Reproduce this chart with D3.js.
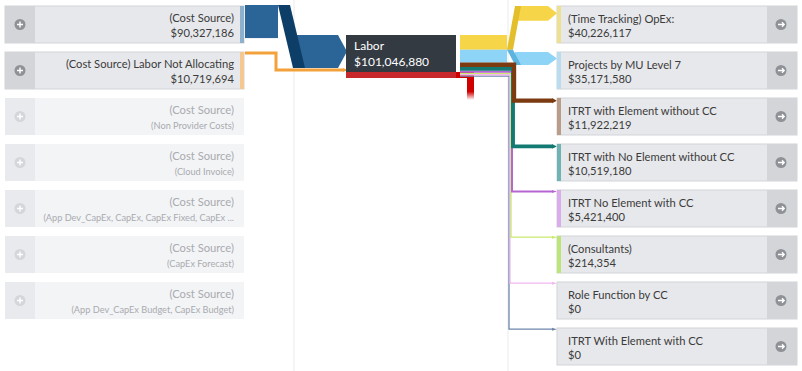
<!DOCTYPE html>
<html>
<head>
<meta charset="utf-8">
<script src="https://cdn.jsdelivr.net/npm/d3@7"></script>
<style>
  body { margin: 0; background: #fff; }
  text { font-family: "Segoe UI", Lato, "Noto Sans", sans-serif; }
</style>
</head>
<body>
<div id="chart"></div>
<script>
// ---- data ----
var sourceNames = ["(Cost Source)", "(Cost Source) Labor Not Allocating", "(Cost Source)", "(Cost Source)",
    "(Cost Source)", "(Cost Source)", "(Cost Source)"];
var sourceSubs = [null, null, "(Non Provider Costs)", "(Cloud Invoice)",
    "(App Dev_CapEx, CapEx, CapEx Fixed, CapEx ...", "(CapEx Forecast)", "(App Dev_CapEx Budget, CapEx Budget)"];
var sourceValues = [90327186, 10719694, 0, 0, 0, 0, 0];
var sourceColors = ["#2b6597", "#f3a13b"];
var sourceAccents = ["#8db0cd", "#f5c891"];

var nodeName = "Labor";
var nodeValue = 101046880;

var targetNames = ["(Time Tracking) OpEx:", "Projects by MU Level 7", "ITRT with Element without CC",
    "ITRT with No Element without CC", "ITRT No Element with CC", "(Consultants)",
    "Role Function by CC", "ITRT With Element with CC"];
var targetValues = [40226117, 35171580, 11922219, 10519180, 5421400, 214354, 0, 0];
var targetColors = ["#f6d548", "#8dd4f6", "#7b3a10", "#127a72", "#b666d2", "#c9ea6c", "#f2b8ee", "#6f86aa"];
var foldColors = ["#e3bf2c", "#5db4de"];
var targetAccents = ["#efe08f", "#b9dcf1", "#b99d88", "#6fb4b2", "#dbaceb", "#bde476", null, null];

var width = 802, height = 371;
var money = d3.format("$,");
var fs = 11.2;

var svg = d3.select("#chart").append("svg")
    .attr("width", width)
    .attr("height", height);

var defs = svg.append("defs");
var grad = defs.append("linearGradient").attr("id", "redFade")
    .attr("x1", 0).attr("y1", 0).attr("x2", 0).attr("y2", 1);
grad.append("stop").attr("offset", "0%").attr("stop-color", "#d10000");
grad.append("stop").attr("offset", "70%").attr("stop-color", "#d10000");
grad.append("stop").attr("offset", "100%").attr("stop-color", "#d10000").attr("stop-opacity", 0);

// scales
var yL = d3.scaleBand().domain(d3.range(sourceNames.length)).range([6, 319]).paddingInner(9 / 46);
var yR = d3.scaleBand().domain(d3.range(targetNames.length)).range([6, 365]).paddingInner(9 / 46);
var thick = d3.scaleLinear().domain([0, nodeValue]).range([0, 37]);
var turnX = d3.scaleLinear().domain([2, 7]).range([514, 509]);

var node = {x: 346, y: 35, w: 110, h: thick(nodeValue)};

// column dividers
svg.selectAll("line.divider")
    .data([294, 508])
    .enter().append("line")
    .attr("class", "divider")
    .attr("x1", function (d) { return d; })
    .attr("x2", function (d) { return d; })
    .attr("y1", 0).attr("y2", height)
    .attr("stroke", "#ebebeb");

// ---- left boxes ----
var left = svg.selectAll("g.src")
    .data(sourceNames)
    .enter().append("g")
    .attr("class", "src")
    .attr("transform", function (d, i) { return "translate(5," + yL(i) + ")"; });

left.append("rect")
    .attr("width", 239).attr("height", yL.bandwidth())
    .attr("fill", function (d, i) { return sourceValues[i] > 0 ? "#e7e8eb" : "#f3f4f6"; })
    .attr("stroke", function (d, i) { return sourceValues[i] > 0 ? "#d2d4d8" : "none"; });
left.append("rect")
    .attr("width", 30).attr("height", yL.bandwidth())
    .attr("fill", function (d, i) { return sourceValues[i] > 0 ? "#d3d5d9" : "#e9eaed"; });
left.filter(function (d, i) { return sourceValues[i] > 0; })
    .append("rect")
    .attr("x", 235).attr("width", 4).attr("height", yL.bandwidth())
    .attr("fill", function (d, i) { return sourceAccents[i]; });

// plus icon
left.append("circle")
    .attr("cx", 15).attr("cy", yL.bandwidth() / 2).attr("r", 5.5)
    .attr("fill", function (d, i) { return sourceValues[i] > 0 ? "#8e9196" : "#d4d6d9"; });
left.append("path")
    .attr("d", "M12," + (yL.bandwidth() / 2) + "h6M15," + (yL.bandwidth() / 2 - 3) + "v6")
    .attr("stroke", "#fff").attr("stroke-width", 1.4);

left.append("text")
    .attr("x", 229).attr("y", 16)
    .attr("text-anchor", "end")
    .attr("font-size", fs)
    .attr("fill", function (d, i) { return sourceValues[i] > 0 ? "#3b3b3b" : "#a9abaf"; })
    .text(function (d) { return d; });
left.append("text")
    .attr("x", 229).attr("y", 31)
    .attr("text-anchor", "end")
    .attr("font-size", function (d, i) { return sourceValues[i] > 0 ? fs : 9.2; })
    .attr("fill", function (d, i) { return sourceValues[i] > 0 ? "#3b3b3b" : "#a9abaf"; })
    .text(function (d, i) { return sourceValues[i] > 0 ? money(sourceValues[i]) : sourceSubs[i]; });

// ---- flow shapes ----
function fold(g, o) {
    // flat band, a shaded diagonal fold, then a band ending in an arrow
    g.append("rect").attr("x", o.x0).attr("y", o.ya).attr("width", o.xa - o.x0).attr("height", o.t)
        .attr("fill", o.color);
    g.append("path")
        .attr("d", "M" + o.xb + "," + o.yb + "H" + (o.x1 - 9) + "L" + o.x1 + "," + (o.yb + o.t / 2) +
            "L" + (o.x1 - 9) + "," + (o.yb + o.t) + "H" + o.xb + "Z")
        .attr("fill", o.color);
    var f = o.f || 8;
    var pts = o.yb >= o.ya
        ? [[o.xa, o.ya], [o.xa + f, o.ya], [o.xb + f, o.yb + o.t], [o.xb, o.yb + o.t]]
        : [[o.xa, o.ya + o.t], [o.xa + f, o.ya + o.t], [o.xb + f, o.yb], [o.xb, o.yb]];
    g.append("polygon").attr("points", pts.join(" ")).attr("fill", o.dark);
}

function elbow(g, o) {
    // thin right-angled flow with a small arrow head
    g.append("path")
        .attr("d", "M" + o.x0 + "," + o.y0 + "H" + o.xt + "V" + o.y1 + "H" + (o.x1 - 5))
        .attr("fill", "none").attr("stroke", o.color).attr("stroke-width", o.t)
        .attr("stroke-linejoin", "miter");
    var h = Math.max(o.t / 2 + 0.5, 1.5);
    g.append("path")
        .attr("d", "M" + (o.x1 - 5) + "," + (o.y1 - h) + "L" + o.x1 + "," + o.y1 + "L" + (o.x1 - 5) + "," + (o.y1 + h) + "Z")
        .attr("fill", o.color);
}

// ---- left flows into the node ----
var flowsL = svg.append("g");
var stackIn = node.y;
sourceValues.forEach(function (v, i) {
    if (v <= 0) return;
    var t = thick(v);
    if (t > 8) {
        fold(flowsL, {x0: 245, xa: 278, xb: 293, x1: 347, ya: yL(i) - 1, yb: stackIn, t: t,
            color: sourceColors[i], dark: "#0d3e67", f: 12});
    } else {
        elbow(flowsL, {x0: 245, xt: 276, x1: 348, y0: yL(i) + 1, y1: stackIn + t / 2,
            t: Math.min(t, 3), color: sourceColors[i]});
    }
    stackIn += t;
});

// ---- node ----
svg.append("rect")
    .attr("x", node.x).attr("y", node.y).attr("width", node.w).attr("height", node.h)
    .attr("fill", "#343a42");
svg.append("rect")
    .attr("x", node.x).attr("y", node.y + node.h).attr("width", node.w).attr("height", 6)
    .attr("fill", "#c8272c");
// over-allocation stub
svg.append("rect")
    .attr("x", node.x + node.w).attr("y", node.y + node.h).attr("width", 18).attr("height", 6)
    .attr("fill", "#d10000");
svg.append("rect")
    .attr("x", node.x + node.w + 11).attr("y", node.y + node.h).attr("width", 7).attr("height", 28)
    .attr("fill", "url(#redFade)");
svg.append("text")
    .attr("x", node.x + 8).attr("y", node.y + 15)
    .attr("font-size", 12).attr("fill", "#fff")
    .text(nodeName);
svg.append("text")
    .attr("x", node.x + 8).attr("y", node.y + 31)
    .attr("font-size", 12).attr("fill", "#fff")
    .text(money(nodeValue));

// ---- right flows ----
var flowsR = svg.append("g");
var stackOut = node.y;
var thinFlows = [];
targetValues.forEach(function (v, i) {
    var t = Math.max(thick(v), 1.3);
    if (t > 8) {
        fold(flowsR, {x0: 460, xa: 507, xb: 515, x1: 557, ya: stackOut, yb: yR(i), t: t,
            color: targetColors[i], dark: foldColors[i], f: 6});
    } else {
        thinFlows.push({i: i, t: t, y0: stackOut + t / 2});
    }
    stackOut += t;
});
// draw the deepest first so upper lines sit on top
thinFlows.reverse().forEach(function (d) {
    elbow(flowsR, {x0: 460, xt: turnX(d.i), x1: 557, y0: d.y0, y1: yR(d.i) + d.t / 2 + 0.5,
        t: d.t, color: targetColors[d.i]});
});

// ---- right boxes ----
var right = svg.selectAll("g.tgt")
    .data(targetNames)
    .enter().append("g")
    .attr("class", "tgt")
    .attr("transform", function (d, i) { return "translate(557," + yR(i) + ")"; });

right.append("rect")
    .attr("width", 240).attr("height", yR.bandwidth())
    .attr("fill", "#e7e8eb").attr("stroke", "#d2d4d8");
right.append("rect")
    .attr("x", 210).attr("width", 30).attr("height", yR.bandwidth())
    .attr("fill", "#d3d5d9");
right.filter(function (d, i) { return targetAccents[i]; })
    .append("rect")
    .attr("width", 4).attr("height", yR.bandwidth())
    .attr("fill", function (d) { return targetAccents[targetNames.indexOf(d)]; });
right.append("circle")
    .attr("cx", 224).attr("cy", yR.bandwidth() / 2).attr("r", 5.5)
    .attr("fill", "#8e9196");
right.append("path")
    .attr("d", "M221," + (yR.bandwidth() / 2) + "h6M225," + (yR.bandwidth() / 2 - 2.2) +
        "l2.2,2.2l-2.2,2.2")
    .attr("fill", "none").attr("stroke", "#fff").attr("stroke-width", 1.3);
right.append("text")
    .attr("x", 11).attr("y", 17)
    .attr("font-size", fs).attr("fill", "#3b3b3b")
    .text(function (d) { return d; });
right.append("text")
    .attr("x", 11).attr("y", 31)
    .attr("font-size", fs).attr("fill", "#3b3b3b")
    .text(function (d, i) { return money(targetValues[i]); });
</script>
</body>
</html>
